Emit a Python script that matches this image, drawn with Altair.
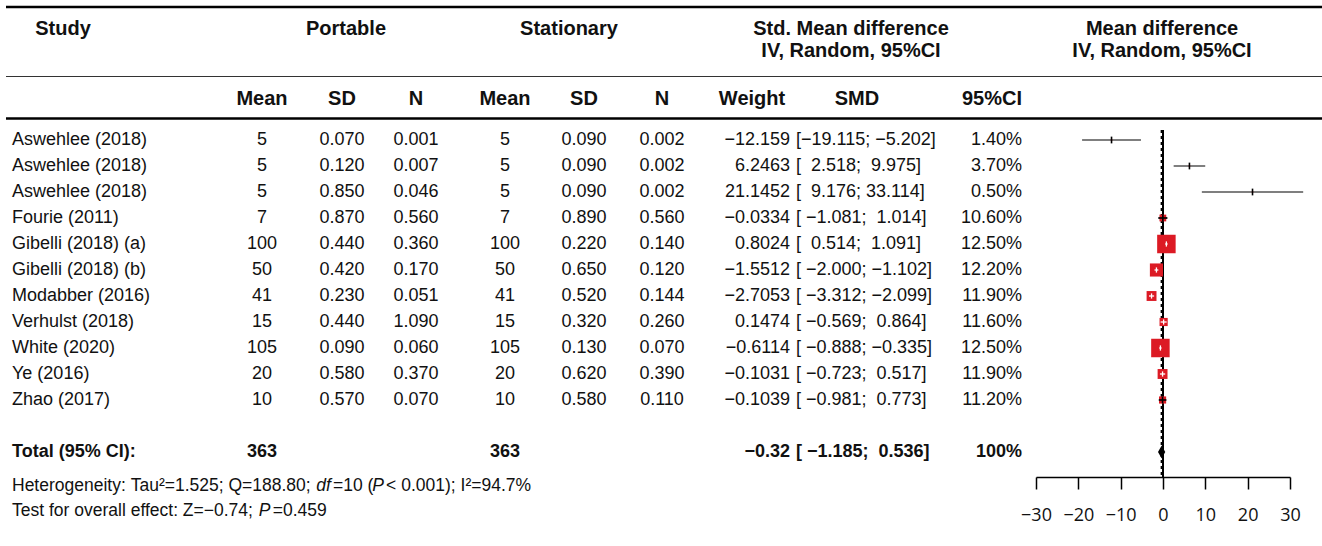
import math
import altair as alt
import pandas as pd

# ---------------- study data ----------------
studies = ["Aswehlee (2018)", "Aswehlee (2018)", "Aswehlee (2018)", "Fourie (2011)",
           "Gibelli (2018) (a)", "Gibelli (2018) (b)", "Modabber (2016)", "Verhulst (2018)",
           "White (2020)", "Ye (2016)", "Zhao (2017)"]
portable_mean = [5, 5, 5, 7, 100, 50, 41, 15, 105, 20, 10]
portable_sd = [0.070, 0.120, 0.850, 0.870, 0.440, 0.420, 0.230, 0.440, 0.090, 0.580, 0.570]
portable_n = [0.001, 0.007, 0.046, 0.560, 0.360, 0.170, 0.051, 1.090, 0.060, 0.370, 0.070]
stationary_mean = [5, 5, 5, 7, 100, 50, 41, 15, 105, 20, 10]
stationary_sd = [0.090, 0.090, 0.090, 0.890, 0.220, 0.650, 0.520, 0.320, 0.130, 0.620, 0.580]
stationary_n = [0.002, 0.002, 0.002, 0.560, 0.140, 0.120, 0.144, 0.260, 0.070, 0.390, 0.110]
smd = [-12.159, 6.2463, 21.1452, -0.0334, 0.8024, -1.5512, -2.7053, 0.1474, -0.6114, -0.1031, -0.1039]
ci_low = [-19.115, 2.518, 9.176, -1.081, 0.514, -2.000, -3.312, -0.569, -0.888, -0.723, -0.981]
ci_high = [-5.202, 9.975, 33.114, 1.014, 1.091, -1.102, -2.099, 0.864, -0.335, 0.517, 0.773]
weight = [1.40, 3.70, 0.50, 10.60, 12.50, 12.20, 11.90, 11.60, 12.50, 11.90, 11.20]

pooled_smd = -0.32
pooled_low = -1.185
pooled_high = 0.536
pooled_weight = 100
axis_ticks = [-30, -20, -10, 0, 10, 20, 30]

# ---------------- styling ----------------
FONT = "Liberation Sans, Arial, sans-serif"
AXIS_FONT = "Open Sans"
INK = "#111111"
RED = "#dc1a24"
BODY = 18
NOTE = 17.5
HEAD = 20
MINUS = "\u2212"
NBSP = "\u00a0"
SUP2 = "\u00b2"

W, H, PAD_BOTTOM = 1322, 477, 69
ROW0, ROW_STEP = 140, 26          # pixel centre of first study row and row pitch
X_LEFT, X_RIGHT = 1036, 1290      # pixel span of the -30..30 effect axis
PX_PER_UNIT = (X_RIGHT - X_LEFT) / 60.0

YS = alt.Scale(domain=[-ROW0 / ROW_STEP, (H - ROW0) / ROW_STEP], range=[0, H], zero=False, nice=False)
XS = alt.Scale(domain=[-30, 30], range=[X_LEFT, X_RIGHT], zero=False, nice=False)
AX = alt.Axis(values=axis_ticks, tickSize=12, tickWidth=1.5, tickColor="black", domainColor="black",
              domainWidth=1.5, labelFont=AXIS_FONT, labelFontSize=18, labelColor=INK,
              labelPadding=17, grid=False, title=None, labelFlush=False, ticks=True)

# box size scale (area, px^2) driven by study weight
SIZE_EXP = 35
SIZE_DOMAIN = [0, 10, 12.5]
SIZE_RANGE = [2, 45, 342]


def box_side(w):
    if w <= SIZE_DOMAIN[1]:
        t = (w / SIZE_DOMAIN[1]) ** SIZE_EXP
        area = SIZE_RANGE[0] + (SIZE_RANGE[1] - SIZE_RANGE[0]) * t
    else:
        a, b = SIZE_DOMAIN[1] ** SIZE_EXP, SIZE_DOMAIN[2] ** SIZE_EXP
        t = (w ** SIZE_EXP - a) / (b - a)
        area = SIZE_RANGE[1] + (SIZE_RANGE[2] - SIZE_RANGE[1]) * t
    return math.sqrt(area)


def signed(s):
    return s.replace("-", MINUS)


def pad(s, n):
    return NBSP * (n - len(s)) + s


def fmt_est(v):
    return signed(f"{v:.4f}"[:7])


def fmt_ci(lo, hi):
    return "[" + pad(signed(f"{lo:.3f}"), 7) + ";" + NBSP + pad(signed(f"{hi:.3f}"), 6) + "]"


n = len(studies)
df = pd.DataFrame({
    "row": list(range(n)),
    "study": studies,
    "pm": [str(v) for v in portable_mean],
    "psd": [f"{v:.3f}" for v in portable_sd],
    "pn": [f"{v:.3f}" for v in portable_n],
    "sm": [str(v) for v in stationary_mean],
    "ssd": [f"{v:.3f}" for v in stationary_sd],
    "sn": [f"{v:.3f}" for v in stationary_n],
    "est_txt": [fmt_est(v) for v in smd],
    "ci_txt": [fmt_ci(a, b) for a, b in zip(ci_low, ci_high)],
    "wt_txt": [f"{w:.2f}%" for w in weight],
    "est": smd,
    "lo": ci_low,
    "hi": ci_high,
    "w": weight,
})
# CI drawn in white when it fits inside its box, otherwise in black over the box
df["inside"] = [(b - a) * PX_PER_UNIT < box_side(w) for a, b, w in zip(ci_low, ci_high, weight)]

total = pd.DataFrame({
    "row": [12],
    "study": ["Total (95% CI):"],
    "pm": [str(sum(portable_mean))],
    "sm": [str(sum(stationary_mean))],
    "est_txt": [signed(f"{pooled_smd:.2f}")],
    "ci_txt": [fmt_ci(pooled_low, pooled_high)],
    "wt_txt": [f"{pooled_weight}%"],
})

ONE = pd.DataFrame({"k": [0]})

# column anchors (pixel x) and text alignment
COLS = [("study", 12, "left"), ("pm", 262, "center"), ("psd", 342, "center"), ("pn", 416, "center"),
        ("sm", 505, "center"), ("ssd", 584, "center"), ("sn", 662, "center"),
        ("est_txt", 790, "right"), ("ci_txt", 796, "left"), ("wt_txt", 1022, "right")]

layers = []

# horizontal table rules
for y, sw, col in [(7, 2.6, "black"), (76.5, 1.2, "#333333"), (118.5, 2.6, "black")]:
    layers.append(alt.Chart(ONE).mark_rule(color=col, strokeWidth=sw).encode(
        x=alt.value(6), x2=alt.value(W), y=alt.value(y)))


def label(text, x, y, size=HEAD, weight="bold", align="center"):
    return alt.Chart(ONE).mark_text(text=text, align=align, baseline="middle", font=FONT,
                                    fontSize=size, fontWeight=weight, color=INK).encode(
        x=alt.value(x), y=alt.value(y))


# column headers
layers += [
    label("Study", 63, 29), label("Portable", 346, 29), label("Stationary", 569, 29),
    label("Std. Mean difference", 851, 29), label("IV, Random, 95%CI", 851, 51),
    label("Mean difference", 1162, 29), label("IV, Random, 95%CI", 1162, 51),
]
for txt, x in [("Mean", 262), ("SD", 342), ("N", 416), ("Mean", 505), ("SD", 584), ("N", 662),
               ("Weight", 752), ("SMD", 857), ("95%CI", 992)]:
    layers.append(label(txt, x, 99))

# study rows and total row
for key, x, align in COLS:
    layers.append(alt.Chart(df).mark_text(align=align, baseline="middle", font=FONT, fontSize=BODY,
                                          color=INK).encode(
        x=alt.value(x), y=alt.Y("row:Q", scale=YS, axis=None), text=f"{key}:N"))
    if key in total.columns:
        layers.append(alt.Chart(total).mark_text(align=align, baseline="middle", font=FONT,
                                                 fontSize=BODY, fontWeight="bold", color=INK).encode(
            x=alt.value(x), y=alt.Y("row:Q", scale=YS, axis=None), text=f"{key}:N"))

# ---- footnote lines with italic runs ----
ARIAL = {" ": 278, NBSP: 278, "(": 333, ")": 333, "%": 889, ".": 278, ";": 278, ":": 278, "<": 584,
         "=": 584, MINUS: 584, SUP2: 333, "H": 722, "I": 278, "P": 667, "Q": 778, "T": 611, "Z": 611,
         "a": 556, "c": 500, "d": 556, "e": 556, "f": 278, "g": 556, "h": 556, "i": 222, "l": 222,
         "n": 556, "o": 556, "r": 333, "s": 500, "t": 278, "u": 556, "v": 500, "y": 500}


def run_width(s, size):
    return sum(ARIAL.get(ch, 556) for ch in s) / 1000.0 * size


def rich_line(parts, x0, y, size=NOTE):
    out = []
    x = x0
    for text, style in parts:
        text = text.replace(" ", NBSP)
        italic = style == "it"
        # slanted glyphs sit visually right of their advance box; nudge them back a little
        xs = x - 1.2 if italic else x
        out.append(alt.Chart(ONE).mark_text(
            text=text, align="left", baseline="middle", font=FONT, fontSize=size,
            fontStyle="italic" if italic else "normal", color=INK).encode(
            x=alt.value(xs), y=alt.value(y)))
        x += run_width(text, size) + (1.0 if italic else 0.0)
    return out


layers += rich_line([("Heterogeneity: Tau" + SUP2 + "=1.525; Q=188.80; ", ""), ("df", "it"),
                     ("=10 (", ""), ("P", "it"), (" < 0.001); I" + SUP2 + "=94.7%", "")],
                    12, 486)
layers += rich_line([("Test for overall effect: Z=" + MINUS + "0.74; ", ""), ("P", "it"), ("=0.459", "")],
                    12, 511)

# ---------------- forest panel ----------------
ref = pd.DataFrame({"v": [0.0]})
pooled = pd.DataFrame({"v": [pooled_smd]})
layers.append(alt.Chart(ref).mark_rule(color="black", strokeWidth=2).encode(
    x=alt.X("v:Q", scale=XS, axis=AX), y=alt.value(130), y2=alt.value(H)))
layers.append(alt.Chart(pooled).mark_rule(color="black", strokeWidth=2, strokeDash=[3, 3]).encode(
    x=alt.X("v:Q", scale=XS, axis=AX), y=alt.value(130), y2=alt.value(H)))

base = alt.Chart(df)
Y = alt.Y("row:Q", scale=YS, axis=None)
layers.append(base.mark_rule(color="#555555", strokeWidth=1.6).encode(
    x=alt.X("lo:Q", scale=XS, axis=AX), x2="hi:Q", y=Y))
layers.append(base.mark_square(color=RED, opacity=1, filled=True).encode(
    x=alt.X("est:Q", scale=XS, axis=AX), y=Y,
    size=alt.Size("w:Q", scale=alt.Scale(type="pow", exponent=SIZE_EXP, domain=SIZE_DOMAIN,
                                         range=SIZE_RANGE), legend=None)))

inside = base.transform_filter("datum.inside").transform_calculate(
    ya="datum.row - 0.1", yb="datum.row + 0.1")
layers.append(inside.mark_rule(color="white", strokeWidth=1.3).encode(
    x=alt.X("lo:Q", scale=XS, axis=AX), x2="hi:Q", y=Y))
layers.append(inside.mark_rule(color="white", strokeWidth=1.3).encode(
    x=alt.X("est:Q", scale=XS, axis=AX), y=alt.Y("ya:Q", scale=YS, axis=None), y2="yb:Q"))

outside = base.transform_filter("!datum.inside").transform_calculate(
    ya="datum.row - 0.13", yb="datum.row + 0.13")
layers.append(outside.transform_filter("datum.w > 5").mark_rule(color="black", strokeWidth=1.6).encode(
    x=alt.X("lo:Q", scale=XS, axis=AX), x2="hi:Q", y=Y))
layers.append(outside.mark_rule(color="black", strokeWidth=1.6).encode(
    x=alt.X("est:Q", scale=XS, axis=AX), y=alt.Y("ya:Q", scale=YS, axis=None), y2="yb:Q"))

# pooled-effect diamond
diamond = pd.DataFrame({
    "x": [pooled_low, pooled_smd, pooled_high],
    "top": [12, 12 - 0.25, 12],
    "bottom": [12, 12 + 0.25, 12],
})
layers.append(alt.Chart(diamond).mark_area(color="black", orient="vertical").encode(
    x=alt.X("x:Q", scale=XS, axis=AX), y=alt.Y("top:Q", scale=YS, axis=None), y2="bottom:Q"))

chart = alt.layer(*layers).properties(
    width=W, height=H, autosize="none",
    padding={"left": 0, "top": 0, "right": 0, "bottom": PAD_BOTTOM},
    background="white",
).configure_view(stroke=None)

chart.save("out.html", embed_options={"renderer": "svg", "actions": False})
